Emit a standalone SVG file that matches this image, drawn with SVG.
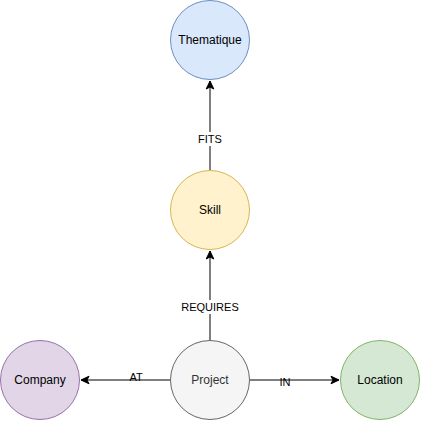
<svg xmlns="http://www.w3.org/2000/svg" width="421" height="421" viewBox="0 0 421 421">
<style>
.n{stroke-width:1}
.t{font-family:"Liberation Sans",Arial,sans-serif;font-size:12px;text-anchor:middle;dominant-baseline:central;fill:#000}
.e{stroke:#000;stroke-width:1;fill:none}
.l{font-family:"Liberation Sans",Arial,sans-serif;font-size:11px;text-anchor:middle;dominant-baseline:central;fill:#000}
.lb{fill:#fff}
</style>
<defs>
<marker id="a" viewBox="0 0 10 10" refX="9" refY="5" markerWidth="10" markerHeight="10" markerUnits="userSpaceOnUse" orient="auto">
<path d="M1,1.2 L9,5 L1,8.8 L3,5 Z" fill="#000" stroke="#000" stroke-width="1"/>
</marker>
</defs>
<g id="edges">
<path class="e" d="M210,340 V251" marker-end="url(#a)"/>
<path class="e" d="M210,170 V81" marker-end="url(#a)"/>
<path class="e" d="M170,380 H81" marker-end="url(#a)"/>
<path class="e" d="M250,380 H339" marker-end="url(#a)"/>
<rect class="lb" x="178" y="300" width="64" height="14"/>
<text class="l" x="210" y="307">REQUIRES</text>
<rect class="lb" x="197" y="132" width="26" height="14"/>
<text class="l" x="210" y="139">FITS</text>
<rect class="lb" x="129" y="371" width="14" height="8"/>
<text class="l" x="136" y="377">AT</text>
<rect class="lb" x="279" y="382" width="12" height="6"/>
<text class="l" x="285" y="382">IN</text>
</g>
<g id="thematique">
<circle class="n" cx="210" cy="40" r="39.5" fill="#dae8fc" stroke="#6c8ebf"/>
<text class="t" x="210" y="40">Thematique</text>
</g>
<g id="skill">
<circle class="n" cx="210" cy="210" r="39.5" fill="#fff2cc" stroke="#d6b656"/>
<text class="t" x="210" y="210">Skill</text>
</g>
<g id="project">
<circle class="n" cx="210" cy="380" r="39.5" fill="#f5f5f5" stroke="#666666"/>
<text class="t" x="210" y="380" style="fill:#333333">Project</text>
</g>
<g id="company">
<circle class="n" cx="40" cy="380" r="39.5" fill="#e1d5e7" stroke="#9673a6"/>
<text class="t" x="40" y="380">Company</text>
</g>
<g id="location">
<circle class="n" cx="380" cy="380" r="39.5" fill="#d5e8d4" stroke="#82b366"/>
<text class="t" x="380" y="380">Location</text>
</g>
</svg>
